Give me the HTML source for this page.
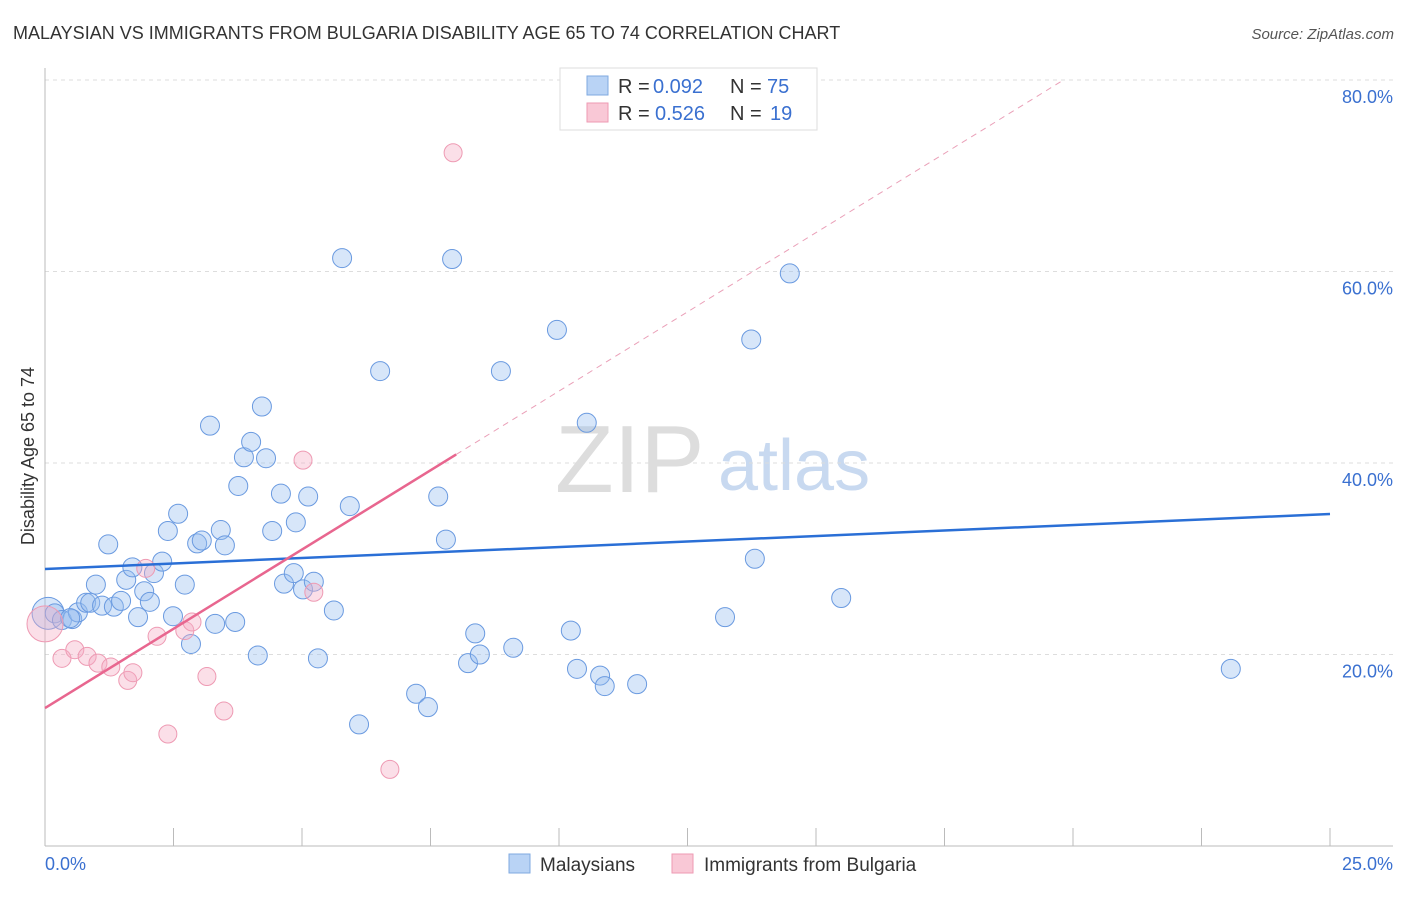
<!DOCTYPE html>
<html><head><meta charset="utf-8"><style>
body{margin:0;background:#fff;font-family:"Liberation Sans",sans-serif}
svg text{font-family:"Liberation Sans",sans-serif}
</style></head><body>
<svg id="c" width="1406" height="892">
<text x="13" y="39" font-size="18" fill="#333">MALAYSIAN VS IMMIGRANTS FROM BULGARIA DISABILITY AGE 65 TO 74 CORRELATION CHART</text>
<text x="1394" y="39" font-size="15" fill="#555" font-style="italic" text-anchor="end">Source: ZipAtlas.com</text>
<text x="34" y="456" font-size="18" fill="#333" text-anchor="middle" transform="rotate(-90 34 456)">Disability Age 65 to 74</text>
<text x="555" y="492" font-size="96" fill="#ddd" font-family="Liberation Serif">ZIP</text>
<text x="718" y="490" font-size="72" fill="#c8d9f0">atlas</text>
<g id="grid"></g><g id="axes"></g><g id="pts"></g><g id="lines"></g>
<g>
<rect x="560" y="68" width="257" height="62" fill="#fff" stroke="#ddd"/>
<rect x="587" y="76" width="21" height="19" fill="#b9d3f5" stroke="#7fa9e0"/>
<rect x="587" y="103" width="21" height="19" fill="#f9c8d6" stroke="#ee9ab3"/>
<text x="618" y="93" font-size="20" fill="#333">R =</text>
<text x="653" y="93" font-size="20" fill="#3a70d0">0.092</text>
<text x="730" y="93" font-size="20" fill="#333">N =</text>
<text x="767" y="93" font-size="20" fill="#3a70d0">75</text>
<text x="618" y="120" font-size="20" fill="#333">R =</text>
<text x="655" y="120" font-size="20" fill="#3a70d0">0.526</text>
<text x="730" y="120" font-size="20" fill="#333">N =</text>
<text x="770" y="120" font-size="20" fill="#3a70d0">19</text>
</g>
<g>
<rect x="509" y="854" width="21" height="19" fill="#b9d3f5" stroke="#7fa9e0"/>
<text x="540" y="871" font-size="19" fill="#333">Malaysians</text>
<rect x="672" y="854" width="21" height="19" fill="#f9c8d6" stroke="#ee9ab3"/>
<text x="704" y="871" font-size="19" fill="#333">Immigrants from Bulgaria</text>
</g>
<text x="45" y="870" font-size="18" fill="#3a70d0">0.0%</text>
<text x="1393" y="870" font-size="18" fill="#3a70d0" text-anchor="end">25.0%</text>
</svg>
<script>
const yTicks=[20,40,60,80];
const yTickLabels=["20.0%","40.0%","60.0%","80.0%"];
const blueX=[0.06,0.19,0.33,0.53,0.64,0.80,0.88,0.99,1.11,1.23,1.34,1.48,1.58,1.70,1.81,1.93,2.04,2.12,2.28,2.39,2.49,2.59,2.72,2.84,2.96,3.05,3.21,3.31,3.42,3.50,3.70,3.76,3.87,4.01,4.14,4.22,4.30,4.42,4.59,4.65,4.84,4.88,5.02,5.12,5.23,5.31,5.62,5.78,5.93,6.11,6.52,7.22,7.45,7.65,7.80,7.92,8.23,8.37,8.46,8.87,9.11,9.96,10.23,10.35,10.54,10.80,10.89,11.52,13.23,13.74,13.81,14.49,15.49,23.07,0.49];
const blueY=[24.3,24.3,23.6,23.7,24.4,25.4,25.4,27.3,25.1,31.5,25.0,25.6,27.8,29.1,23.9,26.6,25.5,28.5,29.7,32.9,24.0,34.7,27.3,21.1,31.6,31.9,43.9,23.2,33.0,31.4,23.4,37.6,40.6,42.2,19.9,45.9,40.5,32.9,36.8,27.4,28.5,33.8,26.8,36.5,27.6,19.6,24.6,61.4,35.5,12.7,49.6,15.9,14.5,36.5,32.0,61.3,19.1,22.2,20.0,49.6,20.7,53.9,22.5,18.5,44.2,17.8,16.7,16.9,23.9,52.9,30.0,59.8,25.9,18.5,23.8];
const pinkX=[0.0,0.33,0.58,0.82,1.03,1.28,1.61,1.71,1.96,2.18,2.39,2.72,2.86,3.15,3.48,5.02,5.23,6.71,7.94];
const pinkY=[23.2,19.6,20.5,19.8,19.1,18.7,17.3,18.1,29.0,21.9,11.7,22.5,23.4,17.7,14.1,40.3,26.5,8.0,72.4];
const blueFit=[28.93,34.67];
const pinkFit=[14.41,3.31];
const NS="http://www.w3.org/2000/svg";
const X=v=>45+v*51.4, Y=v=>846-v*9.575;
function mk(t,a,p){const e=document.createElementNS(NS,t);for(const k in a)e.setAttribute(k,a[k]);p.appendChild(e);return e;}
const grid=document.getElementById('grid'),axes=document.getElementById('axes'),pts=document.getElementById('pts'),lines=document.getElementById('lines');
yTicks.forEach((t,i)=>{
 const g=mk('line',{x1:45,x2:1393,y1:Y(t),y2:Y(t),stroke:'#ddd','stroke-dasharray':'4 4'},grid);
 
 
 const tx=mk('text',{x:1393,y:Y(t)+23,'font-size':18,fill:'#3a70d0','text-anchor':'end'},grid);
 tx.textContent=yTickLabels[i];
 
 
});
const a1=mk('line',{x1:45,x2:45,y1:68,y2:846,stroke:'#bbb'},axes);


const a2=mk('line',{x1:45,x2:1393,y1:846,y2:846,stroke:'#bbb'},axes);


for(let i=0;i<=10;i++){const v=i*2.5;const t=mk('line',{x1:X(v),x2:X(v),y1:828,y2:846,stroke:'#bbb'},axes);
 
 }
blueX.forEach((x,i)=>{const c=mk('circle',{cx:X(x),cy:Y(blueY[i]),r:i==0?16:9.5,fill:'rgba(150,190,240,0.38)',stroke:'#6a9ae0','stroke-width':1},pts);
 
 });
pinkX.forEach((x,i)=>{const c=mk('circle',{cx:X(x),cy:Y(pinkY[i]),r:i==0?18:9,fill:'rgba(245,170,195,0.38)',stroke:'#ee9ab3','stroke-width':1},pts);
 
 });
const bl=mk('line',{x1:X(0),y1:Y(blueFit[0]),x2:X(25),y2:Y(blueFit[1]),stroke:'#2a6fd6','stroke-width':2.5},lines);


const pe=8.0, pd=19.84;
const pl=mk('line',{x1:X(0),y1:Y(pinkFit[0]),x2:X(pe),y2:Y(pinkFit[0]+pinkFit[1]*pe),stroke:'#e8668f','stroke-width':2.5},lines);


const pd2=mk('line',{x1:X(pe),y1:Y(pinkFit[0]+pinkFit[1]*pe),x2:X(pd),y2:Y(pinkFit[0]+pinkFit[1]*pd),stroke:'#eaa0b8','stroke-width':1,'stroke-dasharray':'6 5'},lines);


</script>
</body></html>
